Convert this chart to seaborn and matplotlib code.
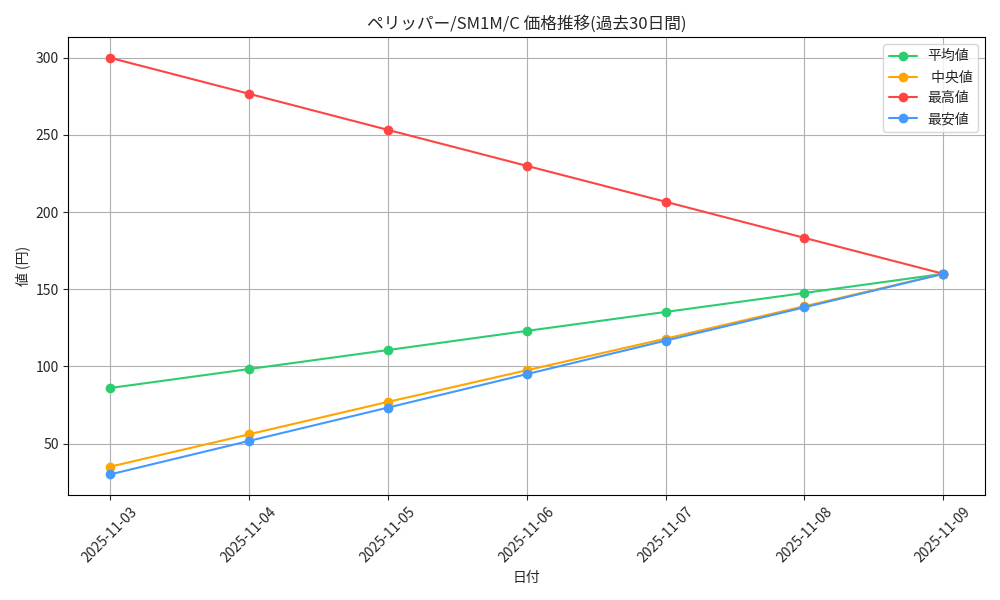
import matplotlib
matplotlib.use("Agg")
import matplotlib.pyplot as plt
import seaborn as sns
import pandas as pd

dates = ["2025-11-03","2025-11-04","2025-11-05","2025-11-06","2025-11-07","2025-11-08","2025-11-09"]
avg = [86, 98.3, 110.6, 123, 135.3, 147.6, 160]
med = [35, 56, 77, 97.5, 118, 139, 160]
high = [300, 276.7, 253.3, 230, 206.7, 183.3, 160]
low = [30, 51.7, 73.3, 95, 116.7, 138.3, 160]
labels = ["平均値", " 中央値", "最高値", "最安値"]
colors = ["#2ecc71", "#ffa500", "#ff4444", "#4499ff"]

sns.set_style("whitegrid")
plt.rcParams['font.family'] = ['Noto Sans CJK JP', 'DejaVu Sans']

fig, ax = plt.subplots(figsize=(10, 6), dpi=100)
x = pd.to_datetime(dates)
for s, lab, c in zip([avg, med, high, low], labels, colors):
    sns.lineplot(x=x, y=s, ax=ax, color=c, marker="o", markersize=7, markeredgewidth=0, label=lab, linewidth=1.5)
ax.set_xticks(x)
ax.set_xticklabels(dates, rotation=45)
ax.grid(True, color="#b0b0b0", linewidth=0.8)
for sp in ax.spines.values():
    sp.set_color("black"); sp.set_linewidth(0.8)
ax.tick_params(left=True, bottom=True, length=3.5)
ax.set_title("ペリッパー/SM1M/C 価格推移(過去30日間)")
ax.set_xlabel("日付")
ax.set_ylabel("値 (円)")
ax.legend(loc="upper right", frameon=True)
fig.tight_layout()
fig.savefig("out.png")
